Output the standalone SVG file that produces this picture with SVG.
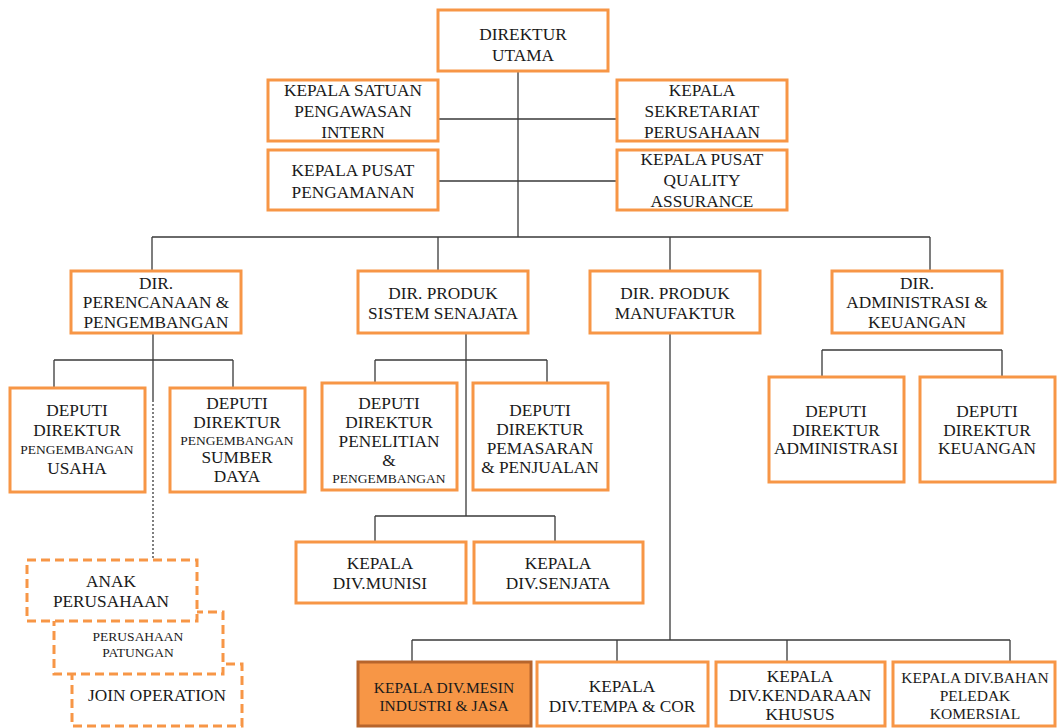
<svg xmlns="http://www.w3.org/2000/svg" width="1057" height="728" viewBox="0 0 1057 728">
<style>
.b{fill:#fff;stroke:#F79646;stroke-width:3}
.d{fill:#fff;stroke:#F79646;stroke-width:3;stroke-dasharray:9 5}
.f{fill:#F79646;stroke:#B7652C;stroke-width:3}
.c{fill:none;stroke:#3a3a3a;stroke-width:1.3}
text{font-family:'Liberation Serif','Times New Roman',serif;font-size:17.3px;fill:#1a1a1a;text-anchor:middle}
.s{font-size:13.5px}
.m{font-size:15.5px}
</style>
<rect width="1057" height="728" fill="#fff"/>
<g id="connectors">
<path class="c" d="M518 71V237M438 119H617M438 181H617M152 237H930M152 237V271M438 237V271M670 237V271M930 237V271"/>
<path class="c" d="M153 333V400M54 360H233M54 360V388M233 360V388"/>
<path class="c" d="M153 400V560" stroke-dasharray="2 2"/>
<path class="c" d="M466 333V516M375 360H547M375 360V383M547 360V383M375 516H555M375 516V542M555 516V542"/>
<path class="c" d="M670 333V640M412 640H1010M412 640V662M617 640V662M787 640V662M1010 640V662"/>
<path class="c" d="M822 350H1002M822 350V376M1002 350V376"/>
</g>
<g id="n-direktur-utama"><rect class="b" x="438" y="10" width="170" height="61"/><text x="523" y="40">DIREKTUR</text><text x="523" y="61">UTAMA</text></g>
<g id="n-spi"><rect class="b" x="268" y="80" width="170" height="61"/><text x="353" y="96">KEPALA SATUAN</text><text x="353" y="117">PENGAWASAN</text><text x="353" y="138">INTERN</text></g>
<g id="n-sekretariat"><rect class="b" x="617" y="80" width="170" height="61"/><text x="702" y="96">KEPALA</text><text x="702" y="117">SEKRETARIAT</text><text x="702" y="138">PERUSAHAAN</text></g>
<g id="n-pengamanan"><rect class="b" x="268" y="150" width="170" height="60"/><text x="353" y="176">KEPALA PUSAT</text><text x="353" y="198">PENGAMANAN</text></g>
<g id="n-qa"><rect class="b" x="617" y="150" width="170" height="60"/><text x="702" y="165">KEPALA  PUSAT</text><text x="702" y="186">QUALITY</text><text x="702" y="207">ASSURANCE</text></g>
<g id="n-dir-perencanaan"><rect class="b" x="71" y="271" width="170" height="62"/><text x="156" y="289">DIR.</text><text x="156" y="308">PERENCANAAN &amp;</text><text x="156" y="328">PENGEMBANGAN</text></g>
<g id="n-dir-senjata"><rect class="b" x="358" y="271" width="170" height="62"/><text x="443" y="299">DIR. PRODUK</text><text x="443" y="319">SISTEM SENAJATA</text></g>
<g id="n-dir-manufaktur"><rect class="b" x="590" y="271" width="170" height="62"/><text x="675" y="299">DIR. PRODUK</text><text x="675" y="319">MANUFAKTUR</text></g>
<g id="n-dir-admin"><rect class="b" x="832" y="271" width="170" height="62"/><text x="917" y="289">DIR.</text><text x="917" y="308">ADMINISTRASI &amp;</text><text x="917" y="328">KEUANGAN</text></g>
<g id="n-dep-usaha"><rect class="b" x="10" y="388" width="135" height="104"/><text x="77" y="416">DEPUTI</text><text x="77" y="436">DIREKTUR</text><text class="s" x="77" y="454">PENGEMBANGAN</text><text x="77" y="474">USAHA</text></g>
<g id="n-dep-sdm"><rect class="b" x="170" y="388" width="135" height="104"/><text x="237" y="409">DEPUTI</text><text x="237" y="428">DIREKTUR</text><text class="s" x="237" y="445">PENGEMBANGAN</text><text x="237" y="463">SUMBER</text><text x="237" y="482">DAYA</text></g>
<g id="n-dep-litbang"><rect class="b" x="322" y="383" width="135" height="107"/><text x="389" y="409">DEPUTI</text><text x="389" y="428">DIREKTUR</text><text x="389" y="447">PENELITIAN</text><text x="389" y="466">&amp;</text><text class="s" x="389" y="483">PENGEMBANGAN</text></g>
<g id="n-dep-pemasaran"><rect class="b" x="473" y="383" width="135" height="107"/><text x="540" y="416">DEPUTI</text><text x="540" y="435">DIREKTUR</text><text x="540" y="454">PEMASARAN</text><text x="540" y="473">&amp; PENJUALAN</text></g>
<g id="n-dep-admin"><rect class="b" x="769" y="377" width="135" height="105"/><text x="836" y="417">DEPUTI</text><text x="836" y="436">DIREKTUR</text><text x="836" y="454">ADMINISTRASI</text></g>
<g id="n-dep-keuangan"><rect class="b" x="920" y="377" width="135" height="105"/><text x="987" y="417">DEPUTI</text><text x="987" y="436">DIREKTUR</text><text x="987" y="454">KEUANGAN</text></g>
<g id="n-munisi"><rect class="b" x="296" y="542" width="170" height="61"/><text x="380" y="569">KEPALA</text><text x="380" y="589">DIV.MUNISI</text></g>
<g id="n-senjata"><rect class="b" x="474" y="542" width="169" height="61"/><text x="558" y="569">KEPALA</text><text x="558" y="589">DIV.SENJATA</text></g>
<g id="n-join"><rect class="d" x="72" y="664" width="170" height="62"/><text x="157" y="701">JOIN OPERATION</text></g>
<g id="n-patungan"><rect class="d" x="54" y="612" width="169" height="62"/><text class="s" x="138" y="641">PERUSAHAAN</text><text class="s" x="138" y="657">PATUNGAN</text></g>
<g id="n-anak"><rect class="d" x="27" y="560" width="170" height="61"/><text x="111" y="587">ANAK</text><text x="111" y="607">PERUSAHAAN</text></g>
<g id="n-mesin"><rect class="f" x="358" y="662" width="173" height="64"/><text class="m" x="444" y="693">KEPALA DIV.MESIN</text><text class="m" x="444" y="711">INDUSTRI &amp; JASA</text></g>
<g id="n-tempa"><rect class="b" x="537" y="662" width="171" height="64"/><text x="622" y="692">KEPALA</text><text x="622" y="712">DIV.TEMPA &amp; COR</text></g>
<g id="n-kendaraan"><rect class="b" x="716" y="662" width="169" height="64"/><text x="800" y="682">KEPALA</text><text x="800" y="701">DIV.KENDARAAN</text><text x="800" y="720">KHUSUS</text></g>
<g id="n-bahan"><rect class="b" x="893" y="662" width="162" height="64"/><text class="m" x="975" y="683">KEPALA DIV.BAHAN</text><text class="m" x="975" y="701">PELEDAK</text><text class="m" x="975" y="719">KOMERSIAL</text></g>
</svg>
